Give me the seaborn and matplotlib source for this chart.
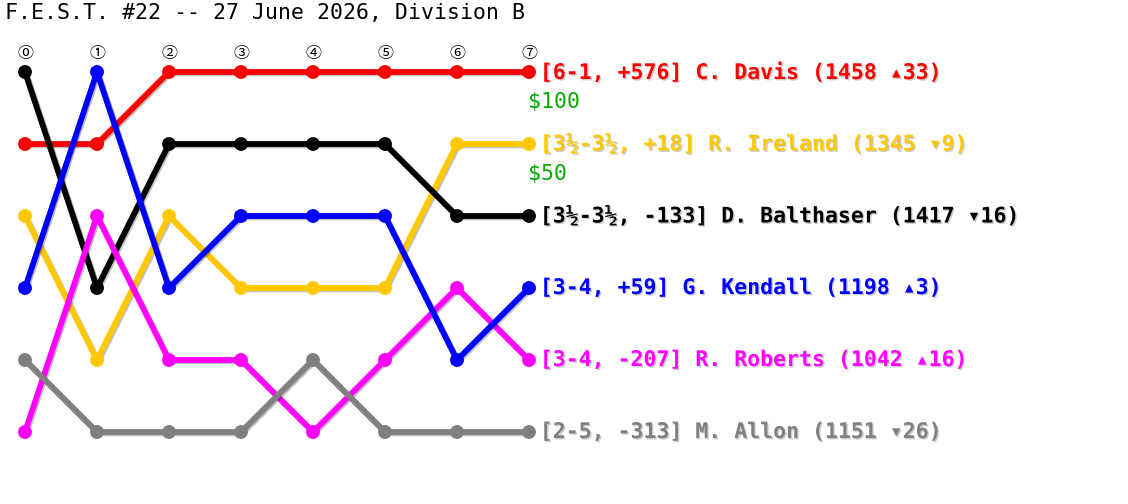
import matplotlib
matplotlib.use('Agg')
import matplotlib.pyplot as plt
import matplotlib.patheffects as pe
import pandas as pd
import seaborn as sns

# Standings after each round (1 = top)
rounds = [0, 1, 2, 3, 4, 5, 6, 7]
round_marks = ['⓪', '①', '②', '③', '④', '⑤', '⑥', '⑦']

davis_ranks = [2, 2, 1, 1, 1, 1, 1, 1]
ireland_ranks = [3, 5, 3, 4, 4, 4, 2, 2]
balthaser_ranks = [1, 4, 2, 2, 2, 2, 3, 3]
kendall_ranks = [4, 1, 4, 3, 3, 3, 5, 4]
roberts_ranks = [6, 3, 5, 5, 6, 5, 4, 5]
allon_ranks = [5, 6, 6, 6, 5, 6, 6, 6]

players = ['C. Davis', 'R. Ireland', 'D. Balthaser', 'G. Kendall', 'R. Roberts', 'M. Allon']
records = ['6-1', '3½-3½', '3½-3½', '3-4', '3-4', '2-5']
spreads = ['+576', '+18', '-133', '+59', '-207', '-313']
ratings = [1458, 1345, 1417, 1198, 1042, 1151]
rating_moves = ['▴33', '▾9', '▾16', '▴3', '▴16', '▾26']
prizes = ['$100', '$50', '', '', '', '']
colors = ['#ff0000', '#ffc800', '#000000', '#0000ff', '#ff00ff', '#808080']

title = 'F.E.S.T. #22 -- 27 June 2026, Division B'

all_ranks = [davis_ranks, ireland_ranks, balthaser_ranks, kendall_ranks, roberts_ranks, allon_ranks]
rows = []
for name, rk in zip(players, all_ranks):
    for r, v in zip(rounds, rk):
        rows.append({'player': name, 'round': r, 'rank': v})
df = pd.DataFrame(rows)
palette = dict(zip(players, colors))

# stacking order seen in the picture (last drawn on top)
draw_order = ['C. Davis', 'R. Ireland', 'D. Balthaser', 'R. Roberts', 'G. Kendall', 'M. Allon']

sns.set_style('white')
mono = ['DejaVu Sans Mono', 'DejaVu Sans', 'Noto Sans CJK JP']
plt.rcParams['font.family'] = mono

fig = plt.figure(figsize=(11.28, 5.04), dpi=100)
ax = fig.add_axes([0, 0, 1, 1])

sns.lineplot(data=df, x='round', y='rank', hue='player', hue_order=draw_order,
             palette=palette, marker='o', markersize=10, markeredgewidth=0,
             linewidth=4.2, legend=False, sort=False, ax=ax)

for line in ax.lines:
    line.set_path_effects([pe.SimpleLineShadow(offset=(1, -1), alpha=0.25), pe.Normal()])
    line.set_solid_capstyle('round')

ax.set_xlim(-25 / 72, (1128 - 25) / 72)
ax.set_ylim(504 / 72, 0)
ax.axis('off')

# round numbers above the columns
for r, m in zip(rounds, round_marks):
    ax.text(r, 0.74, m, ha='center', va='center', fontsize=11.5, color='black',
            family=['Noto Sans CJK JP', 'DejaVu Sans'])

# final labels
last = rounds[-1]
shadow = [pe.withSimplePatchShadow(offset=(1, -1), shadow_rgbFace='black', alpha=0.2)]
for i, name in enumerate(players):
    y = all_ranks[i][-1]
    label = f'[{records[i]}, {spreads[i]}] {name} ({ratings[i]} {rating_moves[i]})'
    ax.text(last + 0.15, y, label, ha='left', va='center', fontsize=15.5,
            fontweight='bold', color=colors[i], family=mono, path_effects=shadow)
    if prizes[i]:
        ax.text(last - 0.02, y + 0.41, prizes[i], ha='left', va='center',
                fontsize=15.5, color='#00aa00', family=mono)

ax.text(5 / 72 - 25 / 72, 13 / 72, title, ha='left', va='center', fontsize=15.5,
        color='black', family=mono)

fig.savefig('out.png', dpi=100)
